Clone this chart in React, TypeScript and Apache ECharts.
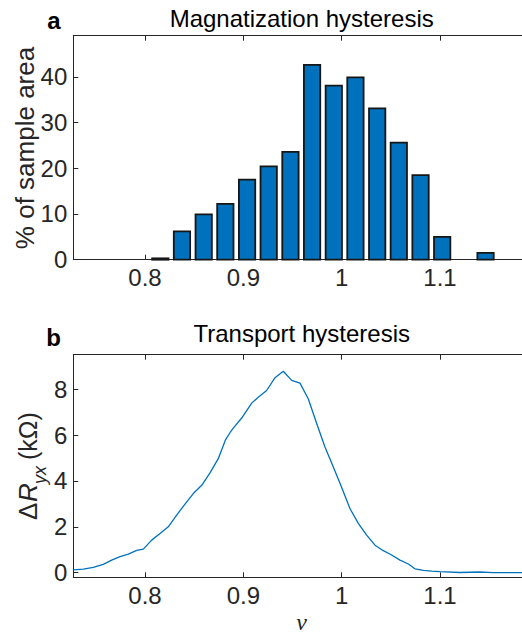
import React, { useEffect, useRef } from 'react';
import * as echarts from 'echarts';

// ---- data (panel a: histogram) ----
const binCenters = [0.8156, 0.8376, 0.8597, 0.8817, 0.9038, 0.9258, 0.9479, 0.9699, 0.992, 1.014, 1.0361, 1.0581, 1.0802, 1.1022, 1.1243, 1.1463];
const areaPercent = [0.3, 6.2, 9.9, 12.2, 17.5, 20.4, 23.6, 42.6, 38.1, 39.9, 33.1, 25.6, 18.5, 5.0, 0, 1.5];

// ---- data (panel b: transport hysteresis) ----
const nu = [0.7271, 0.7373, 0.7474, 0.7576, 0.7661, 0.7746, 0.783, 0.7916, 0.7983, 0.8068, 0.8153, 0.8237, 0.8322, 0.8407, 0.8491, 0.8577, 0.8661, 0.8745, 0.882, 0.8864, 0.8898, 0.8983, 0.9085, 0.9152, 0.9237, 0.9322, 0.9406, 0.9492, 0.9576, 0.966, 0.9746, 0.983, 0.9915, 1.0, 1.0084, 1.0169, 1.0254, 1.0339, 1.0423, 1.0508, 1.0593, 1.0678, 1.0745, 1.083, 1.0915, 1.1, 1.1203, 1.1406, 1.1541, 1.17, 1.1915];
const deltaR = [0.12, 0.16, 0.23, 0.36, 0.55, 0.7, 0.81, 0.97, 1.03, 1.42, 1.71, 2.0, 2.51, 2.99, 3.45, 3.81, 4.35, 4.97, 5.8, 6.1, 6.3, 6.74, 7.39, 7.65, 7.94, 8.5, 8.78, 8.38, 8.26, 7.58, 6.5, 5.48, 4.61, 3.71, 2.8, 2.15, 1.64, 1.2, 0.96, 0.77, 0.55, 0.38, 0.17, 0.1, 0.07, 0.05, 0.01, 0.03, 0.0, 0.0, 0.0];

// ---- ticks ----
const xTicks = [0.8, 0.9, 1.0, 1.1];
const yTicksTop = [0, 10, 20, 30, 40];
const yTicksBottom = [0, 2, 4, 6, 8];

const X_MIN = 0.7271;
const X_MAX = 1.1915;
const BAR_HALF = 0.0083;

const FONT = '"Liberation Sans", Arial, Helvetica, sans-serif';
const SERIF = '"Liberation Serif", "Times New Roman", serif';
const AXIS = '#262626';
const BLUE = '#0072BD';

function xAxisDef(gridIndex: number, position: 'top' | 'bottom', labels: boolean) {
  return {
    type: 'value',
    gridIndex,
    position,
    min: X_MIN,
    max: X_MAX,
    axisLine: { show: true, onZero: false, lineStyle: { color: AXIS, width: 1 } },
    axisTick: { show: true, inside: true, length: 5, customValues: xTicks, lineStyle: { color: AXIS, width: 1 } },
    axisLabel: {
      show: labels,
      customValues: xTicks,
      margin: 6,
      fontSize: 24,
      fontFamily: FONT,
      color: AXIS,
      formatter: (v: number) => String(+v.toFixed(2)),
    },
    splitLine: { show: false },
  };
}

function yAxisDef(gridIndex: number, min: number, max: number, ticks: number[]) {
  return {
    type: 'value',
    gridIndex,
    min,
    max,
    axisLine: { show: true, onZero: false, lineStyle: { color: AXIS, width: 1 } },
    axisTick: { show: true, inside: true, length: 5, customValues: ticks, lineStyle: { color: AXIS, width: 1 } },
    axisLabel: {
      customValues: ticks,
      margin: 6,
      fontSize: 24,
      fontFamily: FONT,
      color: AXIS,
    },
    splitLine: { show: false },
  };
}

function txt(x: number, y: number, text: string, extra: any = {}, rotation = 0) {
  return {
    type: 'text',
    x,
    y,
    rotation,
    style: {
      text,
      fontSize: 24,
      fontFamily: FONT,
      fill: '#000',
      align: 'center',
      textAlign: 'center',
      verticalAlign: 'middle',
      textVerticalAlign: 'middle',
      ...extra,
    },
  };
}

export default function App() {
  const ref = useRef<HTMLDivElement>(null);

  useEffect(() => {
    if (!ref.current) return;
    const chart = echarts.init(ref.current, undefined, { renderer: 'svg' });

    const barData = binCenters.map((c, i) => [c, areaPercent[i]]);
    const lineData = nu.map((x, i) => [x, deltaR[i]]);

    const leftAlign = { align: 'left', textAlign: 'left' };

    chart.setOption({
      animation: false,
      backgroundColor: '#fff',
      grid: [
        { left: 73.3, top: 35.7, width: 456.7, height: 224, outerBoundsMode: 'none', containLabel: false },
        { left: 73.3, top: 354.7, width: 456.7, height: 222.6, outerBoundsMode: 'none', containLabel: false },
      ],
      xAxis: [
        xAxisDef(0, 'bottom', true),
        xAxisDef(0, 'top', false),
        xAxisDef(1, 'bottom', true),
        xAxisDef(1, 'top', false),
      ],
      yAxis: [yAxisDef(0, 0, 49, yTicksTop), yAxisDef(1, -0.2, 9.5, yTicksBottom)],
      series: [
        {
          type: 'custom',
          xAxisIndex: 0,
          yAxisIndex: 0,
          encode: { x: 0, y: 1 },
          data: barData,
          renderItem: (params: any, api: any) => {
            const c = api.value(0);
            const v = api.value(1);
            if (!v) return null;
            const p0 = api.coord([c - BAR_HALF, v]);
            const p1 = api.coord([c + BAR_HALF, 0]);
            return {
              type: 'rect',
              shape: { x: p0[0], y: p0[1], width: p1[0] - p0[0], height: p1[1] - p0[1] },
              style: { fill: BLUE, stroke: '#161616', lineWidth: 1.8 },
            };
          },
        },
        {
          type: 'line',
          xAxisIndex: 2,
          yAxisIndex: 1,
          data: lineData,
          showSymbol: false,
          symbol: 'none',
          lineStyle: { color: BLUE, width: 1.3 },
        },
      ],
      graphic: [
        txt(301.7, 18, 'Magnatization hysteresis'),
        txt(301.7, 333, 'Transport hysteresis'),
        txt(54, 20, 'a', { fontWeight: 'bold' }),
        txt(53.5, 337.5, 'b', { fontWeight: 'bold' }),
        txt(25, 148, '% of sample area', { fontSize: 26, fill: AXIS }, Math.PI / 2),
        txt(301.5, 622, 'ν', { fontSize: 24, fontFamily: SERIF, fontStyle: 'italic', fill: AXIS }),
        {
          type: 'group',
          x: 27.7,
          y: 520,
          rotation: Math.PI / 2,
          children: [
            txt(0, 0, 'Δ', { fontSize: 26, fill: AXIS, ...leftAlign }),
            txt(18, 0, 'R', { fontSize: 26, fill: AXIS, fontStyle: 'italic', ...leftAlign }),
            txt(36, 12, 'yx', { fontSize: 18, fill: AXIS, fontStyle: 'italic', ...leftAlign }),
            txt(60, 0, '(kΩ)', { fontSize: 25, fill: AXIS, ...leftAlign }),
          ],
        },
      ],
    });

    return () => chart.dispose();
  }, []);

  return (
    <div
      ref={ref}
      style={{ position: 'absolute', left: 0, top: 0, width: 522, height: 637, overflow: 'hidden' }}
    />
  );
}
